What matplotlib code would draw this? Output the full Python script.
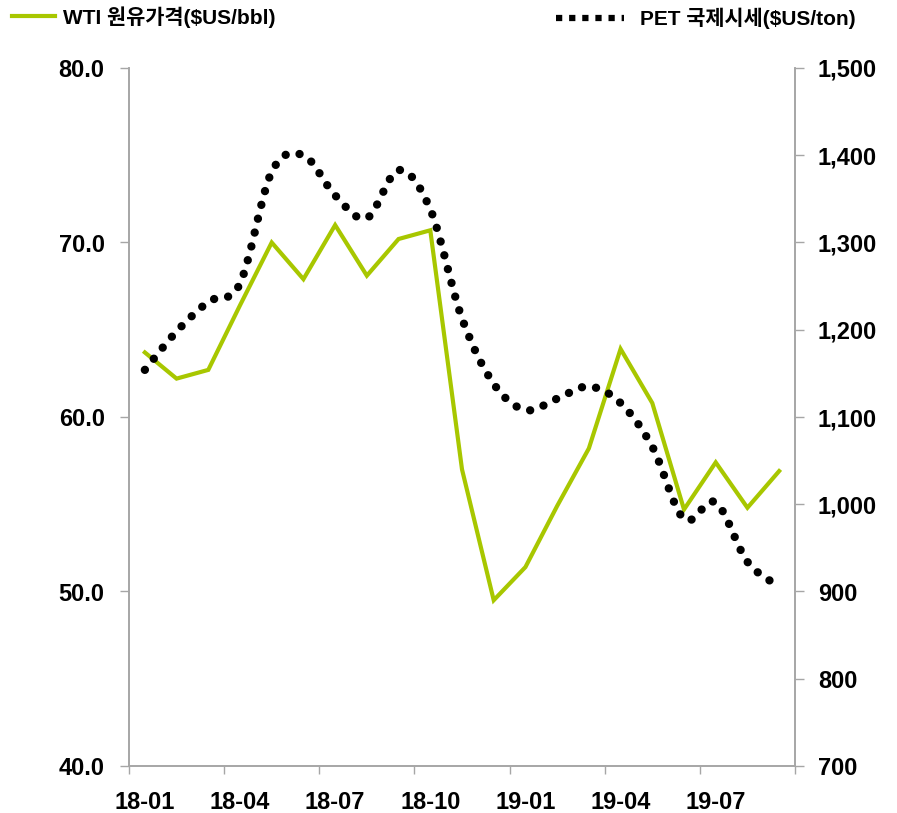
import matplotlib
matplotlib.use("Agg")
import matplotlib.pyplot as plt
from matplotlib.path import Path
from matplotlib.patches import PathPatch
from matplotlib.lines import Line2D
import numpy as np

plt.rcParams['font.family'] = ['Liberation Sans', 'Noto Sans CJK KR', 'DejaVu Sans']

# monthly data 18-01 .. 19-09
months = ["18-01", "18-02", "18-03", "18-04", "18-05", "18-06", "18-07",
          "18-08", "18-09", "18-10", "18-11", "18-12", "19-01", "19-02",
          "19-03", "19-04", "19-05", "19-06", "19-07", "19-08", "19-09"]
wti = [63.7, 62.2, 62.7, 66.4, 70.0, 67.9, 71.0, 68.1, 70.2, 70.7, 57.0,
       49.5, 51.4, 54.9, 58.2, 63.9, 60.8, 54.7, 57.4, 54.8, 56.9]
pet = [1154, 1198, 1232, 1253, 1381, 1400, 1354, 1328, 1383, 1338, 1213,
       1138, 1108, 1121, 1135, 1116, 1066, 983, 1002, 934, 906]
tick_labels = ["18-01", "18-04", "18-07", "18-10", "19-01", "19-04", "19-07"]

green = '#A8C700'
grey = '#A6A6A6'

fig = plt.figure(figsize=(8.97, 8.13), dpi=100)
ax = fig.add_axes([129/897, 47/813, 666/897, 698/813])
ax2 = ax.twinx()

x = np.arange(len(months))
ax.plot(x, wti, color=green, lw=3.0, solid_joinstyle='miter', zorder=3)


# smoothed line like excel (bezier through the points)
def smooth_path(xs, ys):
    pts = np.column_stack([xs, ys]).astype(float)
    n = len(pts)
    verts = [pts[0]]
    codes = [Path.MOVETO]
    for i in range(n - 1):
        p0 = pts[max(i - 1, 0)]
        p1 = pts[i]
        p2 = pts[i + 1]
        p3 = pts[min(i + 2, n - 1)]
        c1 = p1 + (p2 - p0) / 6.0
        c2 = p2 - (p3 - p1) / 6.0
        verts += [c1, c2, p2]
        codes += [Path.CURVE4] * 3
    return Path(verts, codes)


patch = PathPatch(smooth_path(x, pet), fill=False, edgecolor='black', lw=6.0,
                  linestyle=(0, (0.01, 1.7)), capstyle='round', zorder=4)
ax2.add_patch(patch)

ax.set_xlim(-0.5, len(months) - 0.5)
ax.set_ylim(40, 80)
ax2.set_ylim(700, 1500)
ax.set_yticks([40, 50, 60, 70, 80])
ax.set_yticklabels(["%.1f" % v for v in [40, 50, 60, 70, 80]])
ax2.set_yticks(range(700, 1501, 100))
ax2.set_yticklabels(["{:,}".format(v) for v in range(700, 1501, 100)])

ax.set_xticks(np.arange(-0.5, len(months), 3))
ax.set_xticklabels([])
ax.set_xticks(np.arange(0, len(months), 3), minor=True)
ax.set_xticklabels(tick_labels, minor=True)
ax.tick_params(axis='x', which='major', length=6, color=grey, width=1)
ax.tick_params(axis='x', which='minor', length=0, pad=18, labelsize=17)

ax.tick_params(axis='y', length=6.5, color=grey, width=1, labelsize=17, pad=11)
ax2.tick_params(axis='y', length=6.5, color=grey, width=1, labelsize=17, pad=10)

for lab in ax.get_xticklabels(minor=True) + ax.get_yticklabels() + ax2.get_yticklabels():
    lab.set_fontweight('bold')

for a in (ax, ax2):
    a.spines['top'].set_visible(False)
    for s in ('left', 'right', 'bottom'):
        a.spines[s].set_color(grey)
        a.spines[s].set_linewidth(1.2)

# legend drawn at the top
fig.add_artist(Line2D([12/897, 55/897], [1 - 16/813, 1 - 16/813], color=green,
                      lw=3.0, transform=fig.transFigure))
fig.text(63/897, 1 - 17/813, "WTI 원유가격($US/bbl)", fontsize=15, fontweight='bold',
         va='center', ha='left', family=['Liberation Sans', 'Noto Sans CJK KR'])
fig.add_artist(Line2D([556/897, 624/897], [1 - 18/813, 1 - 18/813], color='black',
                      lw=4.5, linestyle=(0, (1.0, 1.1)), dash_capstyle='butt',
                      transform=fig.transFigure))
fig.text(640/897, 1 - 18/813, "PET 국제시세($US/ton)", fontsize=15, fontweight='bold',
         va='center', ha='left', family=['Liberation Sans', 'Noto Sans CJK KR'])

fig.savefig("out.png", dpi=100)
